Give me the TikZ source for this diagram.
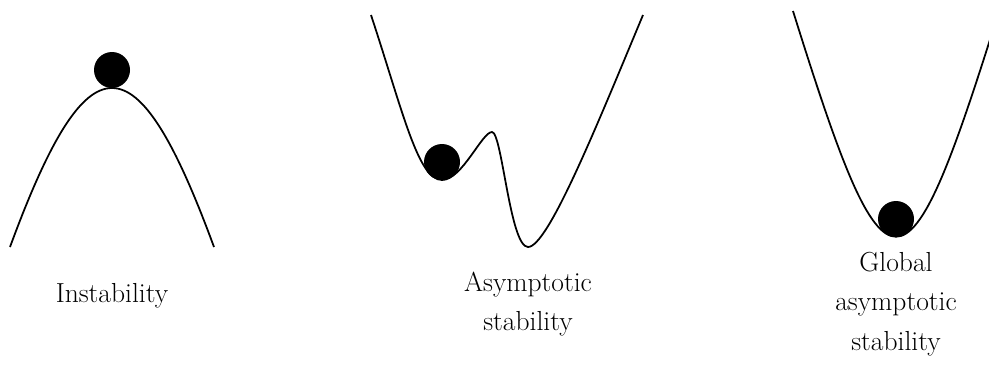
\documentclass[tikz,border=0pt]{standalone}
\begin{document}
\begin{tikzpicture}[x=0.03cm,y=-0.03cm,
  curve/.style={line width=1.5pt,line join=round},
  ball/.style={circle,fill=black,inner sep=0pt,minimum size=1.08cm},
  lab/.style={align=center,font=\fontsize{23.5}{34}\selectfont}]
\useasboundingbox (0,0) rectangle (989,381);
% Panel 1: instability
\draw[curve] (10,247) .. controls (88,35) and (136,35) .. (214,247);
\node[ball] (ball1) at (112,70) {};
\node[lab] (l1) at (112,296) {Instability};
% Panel 2: asymptotic stability
\draw[curve] (371,15) .. controls (403,112) and (418,180) .. (442,180)
  .. controls (462,180) and (482,132) .. (492,132)
  .. controls (502,132) and (510,247) .. (528,247)
  .. controls (548,247) and (597,125) .. (643,15);
\node[ball] (ball2) at (442,162) {};
\node[lab] (l2) at (528,304) {Asymptotic\\stability};
% Panel 3: global asymptotic stability
\draw[curve] (793,11) .. controls (887,312) and (905,312) .. (999,11);
\node[ball] (ball3) at (896,219) {};
\node[lab] (l3) at (896,304) {Global\\asymptotic\\stability};
\end{tikzpicture}
\end{document}
